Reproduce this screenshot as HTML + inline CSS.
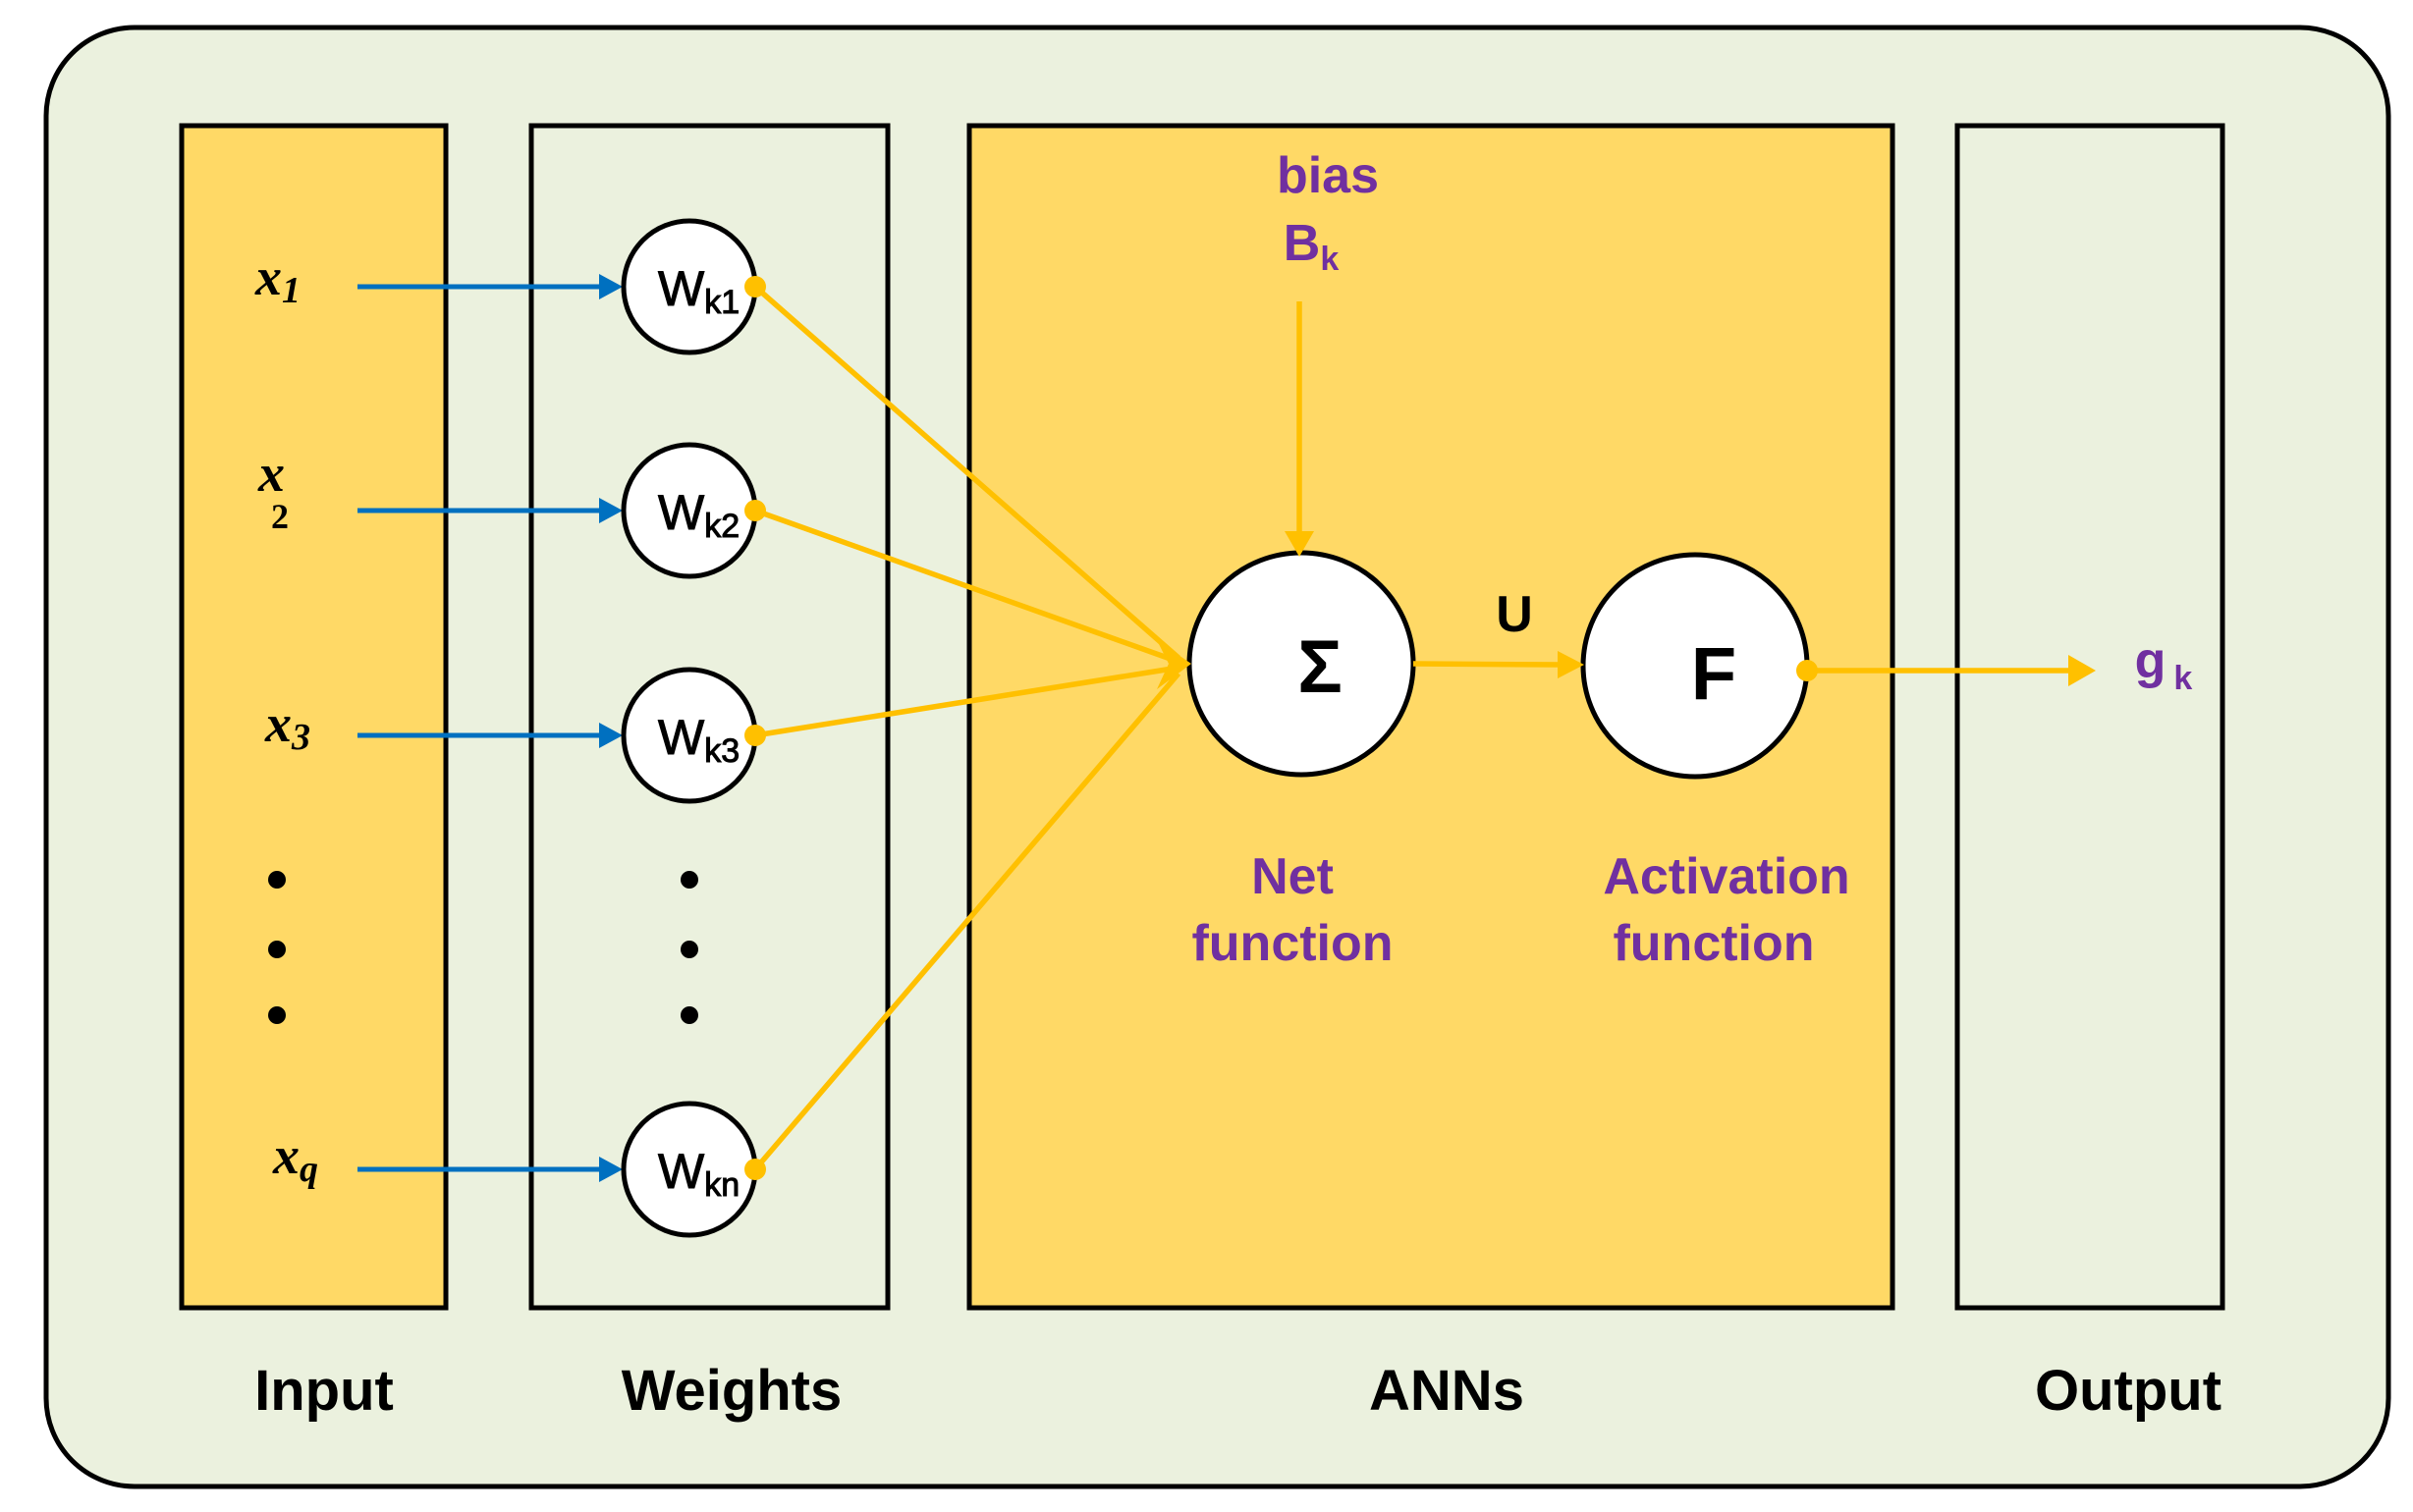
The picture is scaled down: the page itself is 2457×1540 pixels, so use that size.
<!DOCTYPE html>
<html><head><meta charset="utf-8"><style>
html,body{margin:0;padding:0;background:#fff;}
svg{display:block;}
.s{font-family:"Liberation Sans",sans-serif;}
.r{font-family:"Liberation Serif",serif;font-style:italic;font-weight:bold;}
</style></head><body>
<svg width="2457" height="1540" viewBox="0 0 2457 1540" xmlns="http://www.w3.org/2000/svg">
<rect x="47" y="28" width="2385" height="1486" rx="90" fill="#EBF1DE" stroke="#000" stroke-width="5"/>
<rect x="185" y="128" width="269" height="1204" fill="#FFD966" stroke="#000" stroke-width="5"/>
<rect x="541" y="128" width="363" height="1204" fill="#EBF1DE" stroke="#000" stroke-width="5"/>
<rect x="987" y="128" width="940" height="1204" fill="#FFD966" stroke="#000" stroke-width="5"/>
<rect x="1993" y="128" width="270" height="1204" fill="#EBF1DE" stroke="#000" stroke-width="5"/>

<g stroke="#0070C0" stroke-width="5" fill="none">
<line x1="364" y1="292" x2="612" y2="292"/>
<line x1="364" y1="520" x2="612" y2="520"/>
<line x1="364" y1="749" x2="612" y2="749"/>
<line x1="364" y1="1191" x2="612" y2="1191"/>
</g>
<g fill="#0070C0">
<path d="M610,279 L634,292 L610,305z"/>
<path d="M610,507 L634,520 L610,533z"/>
<path d="M610,736 L634,749 L610,762z"/>
<path d="M610,1178 L634,1191 L610,1204z"/>
</g>

<g fill="#fff" stroke="#000" stroke-width="5">
<circle cx="702" cy="292" r="67"/>
<circle cx="702" cy="520" r="67"/>
<circle cx="702" cy="749" r="67"/>
<circle cx="702" cy="1191" r="67"/>
<ellipse cx="1325" cy="676" rx="114" ry="113"/>
<ellipse cx="1726" cy="678" rx="114" ry="113"/>
</g>

<g stroke="#FFC000" stroke-width="5.5" fill="none">
<line x1="769" y1="292" x2="1200" y2="670"/>
<line x1="769" y1="520" x2="1200" y2="674"/>
<line x1="769" y1="749" x2="1200" y2="680"/>
<line x1="769" y1="1191" x2="1200" y2="686"/>
<line x1="1323" y1="307" x2="1323" y2="545"/>
<line x1="1439" y1="676" x2="1590" y2="677"/>
<line x1="1840" y1="683" x2="2110" y2="683"/>
</g>
<g fill="#FFC000">
<circle cx="769" cy="292" r="11"/>
<circle cx="769" cy="520" r="11"/>
<circle cx="769" cy="749" r="11"/>
<circle cx="769" cy="1191" r="11"/>
<circle cx="1840" cy="683" r="11"/>
<path d="M1308,541 L1338,541 L1323,567z"/>
<path d="M1586,663 L1613,677 L1586,691z"/>
<path d="M2106,667 L2134,683 L2106,699z"/>
<path d="M1178,652 L1213,676 L1178,702 L1190,676z"/>
</g>

<g fill="#000">
<circle cx="282" cy="896" r="9"/><circle cx="282" cy="967" r="9"/><circle cx="282" cy="1034" r="9"/>
<circle cx="702" cy="896" r="9"/><circle cx="702" cy="967" r="9"/><circle cx="702" cy="1034" r="9"/>
</g>

<g class="r" font-size="54" fill="#000">
<text x="260" y="300">x<tspan font-size="38" dy="8">1</tspan></text>
<text x="263" y="500">x</text>
<text x="276" y="538" font-style="normal" font-size="36">2</text>
<text x="270" y="755">x<tspan font-size="38" dy="8">3</tspan></text>
<text x="278" y="1195">x<tspan font-size="38" dy="8">q</tspan></text>
</g>

<g class="s" font-size="50" fill="#000" stroke="#000" stroke-width="1">
<text x="670" y="311">W<tspan font-size="34" dy="8">k1</tspan></text>
<text x="670" y="539">W<tspan font-size="34" dy="8">k2</tspan></text>
<text x="670" y="768">W<tspan font-size="34" dy="8">k3</tspan></text>
<text x="670" y="1210">W<tspan font-size="34" dy="8">kn</tspan></text>
</g>

<g class="s" font-weight="bold" fill="#000">
<text x="1344" y="705" font-size="76" text-anchor="middle">Σ</text>
<text x="1745" y="712" font-size="76" text-anchor="middle">F</text>
<text x="1542" y="643" font-size="52" text-anchor="middle">U</text>
<g font-size="58" text-anchor="middle">
<text x="330" y="1436">Input</text>
<text x="745" y="1436">Weights</text>
<text x="1473" y="1436">ANNs</text>
<text x="2167" y="1436">Output</text>
</g>
</g>

<g class="s" fill="#7030A0" font-weight="bold" font-size="52" text-anchor="middle">
<text x="1352" y="196">bias</text>
<text x="1335" y="265">B<tspan font-size="34" dy="10">k</tspan></text>
<text x="1316" y="910">Net</text>
<text x="1316" y="978">function</text>
<text x="1758" y="910">Activation</text>
<text x="1745" y="978">function</text>
<text x="2203" y="690">g<tspan font-size="34" dx="8" dy="12">k</tspan></text>
</g>
</svg>
</body></html>
